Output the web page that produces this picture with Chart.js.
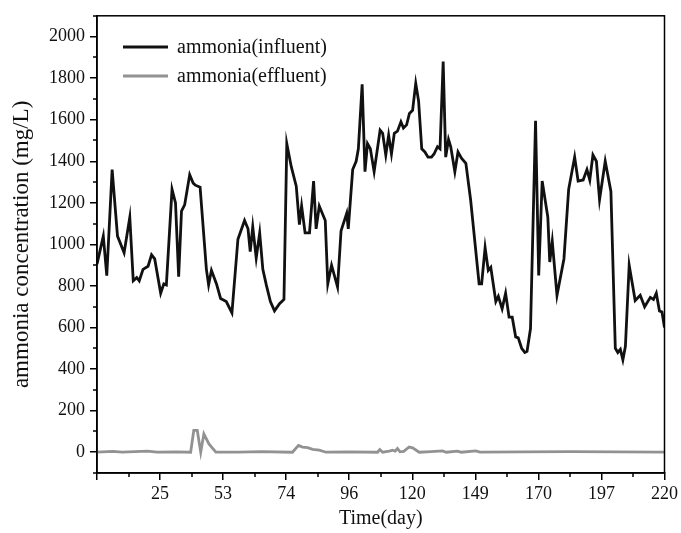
<!DOCTYPE html>
<html>
<head>
<meta charset="utf-8">
<script src="https://cdn.jsdelivr.net/npm/chart.js@4"></script>
<style>
  body { margin: 0; background: #fff; }
  #wrap { width: 681px; height: 533px; }
</style>
</head>
<body>
<div id="wrap"><canvas id="myChart" width="681" height="533"></canvas></div>
<script>
// eixo x: posicao da amostra (0..180), rotulos com o dia real
var dayTicks = ['', '25', '53', '74', '96', '120', '149', '170', '197', '220'];

var influentX = [0, 2.0, 3.1, 4.8, 6.5, 8.6, 10.4, 11.5, 12.6, 13.4, 14.6, 16.2, 17.3, 18.3, 20.2, 21.2, 22.0,
  23.8, 24.9, 25.9, 26.8, 27.8, 29.4, 30.5, 31.2, 32.7, 34.7, 35.4, 36.3, 37.9, 39.2, 41.0, 42.8,
  44.7, 46.8, 47.9, 48.6, 49.4, 50.5, 51.6, 52.6, 53.7, 55.0, 56.3, 57.9, 59.3, 60.2, 61.6, 63.2,
  64.2, 64.9, 66.0, 67.4, 68.7, 69.5, 70.5, 72.4, 73.2, 74.4, 76.3, 77.4, 79.2, 79.7, 81.1, 82.2,
  82.9, 84.1, 85.0, 85.8, 86.7, 87.9, 89.8, 90.6, 91.6, 92.5, 93.4, 94.3, 95.3, 96.4, 97.2, 98.2,
  99.1, 100.1, 101.1, 102.0, 103.0, 104.0, 105.0, 106.1, 106.9, 108.0, 108.8, 109.8, 110.6, 111.5,
  112.2, 113.5, 114.5, 115.6, 117.0, 118.5, 121.2, 122.0, 123.1, 124.1, 124.9, 126.5, 127.3, 128.5,
  129.6, 130.7, 131.7, 132.8, 133.6, 134.7, 135.7, 136.4, 137.5, 139.1, 140.1, 141.2, 143.0, 143.6,
  144.4, 145.9, 148.1, 149.6, 151.5, 152.6, 154.2, 155.4, 156.3, 157.3, 158.4, 159.4, 161.2, 163.0,
  164.4, 165.2, 166.0, 166.8, 167.6, 168.8, 170.7, 172.3, 173.7, 175.5, 176.5, 177.4, 178.4, 179.2, 180];
var influentConc = [905, 1040, 850, 1360, 1040, 960, 1130, 825, 840, 825, 880, 895, 950, 930, 765, 810, 805,
  1265, 1200, 845, 1160, 1190, 1335, 1295, 1285, 1275, 880, 805, 875, 810, 740, 725, 670,
  1025, 1115, 1075, 965, 1085, 935, 1055, 880, 805, 725, 680, 715, 735, 1485, 1375, 1280,
  1095, 1185, 1055, 1055, 1305, 1075, 1185, 1115, 810, 900, 795, 1065, 1150, 1075, 1360, 1400,
  1460, 1770, 1350, 1485, 1460, 1350, 1550, 1535, 1430, 1525, 1435, 1535, 1545, 1590, 1560, 1575,
  1630, 1645, 1775, 1690, 1460, 1445, 1420, 1420, 1435, 1470, 1460, 1880, 1420, 1505,
  1470, 1350, 1445, 1415, 1390, 1215, 810, 810, 985, 875, 890, 725, 750, 690,
  765, 650, 650, 555, 550, 500, 480, 485, 595, 1595, 850, 1305, 1130, 915,
  1015, 755, 930, 1265, 1420, 1305, 1310, 1360, 1310, 1430, 1400, 1215, 1400, 1255,
  500, 480, 495, 445, 510, 900, 730, 755, 700, 745, 735, 765, 680, 675, 600];

var effluentX = [0, 5, 8, 16, 19, 25, 29.7, 30.7, 31.8, 32.9, 33.9, 35.5, 37.7, 45, 52, 62, 63.9, 65.2,
  66.8, 68.4, 70.5, 72.6, 80, 89, 89.7, 90.6, 92.7, 93.8, 94.6, 95.3, 96.1, 97.3, 99.0, 100.1,
  102.2, 106, 109.6, 110.8, 114.3, 115.5, 120.1, 121.5, 135, 150, 165, 180];
var effluentConc = [0, 4, 0, 5, 0, 2, 0, 105, 105, 0, 88, 40, 0, 0, 3, 0, 33, 25,
  22, 14, 10, 0, 2, 0, 13, 0, 5, 10, 5, 18, 2, 4, 25, 21,
  0, 3, 6, 0, 5, 0, 6, 0, 2, 3, 2, 0];

var serif = 'Liberation Serif';

function pares(xs, ys) {
  return xs.map(function (x, i) { return { x: x, y: ys[i] }; });
}

// ticks menores, moldura e legenda dentro do grafico
var extras = {
  id: 'extras',
  afterDraw: function (chart) {
    var c = chart.ctx, a = chart.chartArea;
    var xs = chart.scales.x, ys = chart.scales.y;
    c.save();
    c.strokeStyle = '#000';
    c.lineWidth = 1.5;
    c.strokeRect(a.left, a.top, a.right - a.left, a.bottom - a.top);
    c.beginPath();
    for (var v = 10; v < 180; v += 20) {
      var px = Math.round(xs.getPixelForValue(v));
      c.moveTo(px, a.bottom); c.lineTo(px, a.bottom + 4);
    }
    for (var w = -100; w <= 2100; w += 200) {
      var py = Math.round(ys.getPixelForValue(w));
      c.moveTo(a.left, py); c.lineTo(a.left - 4, py);
    }
    c.stroke();
    // legenda
    c.font = '20px "' + serif + '"';
    c.textBaseline = 'middle';
    chart.data.datasets.forEach(function (ds, i) {
      var y = 47 + i * 29;
      c.strokeStyle = ds.borderColor;
      c.lineWidth = 2.8;
      c.beginPath(); c.moveTo(123, y); c.lineTo(168, y); c.stroke();
      c.fillStyle = '#111';
      c.fillText(ds.label, 177, y + 1);
    });
    c.restore();
  }
};

var ctx = document.getElementById('myChart');
var myChart = new Chart(ctx, {
  type: 'line',
  data: {
    datasets: [{
      label: 'ammonia(influent)',
      data: pares(influentX, influentConc),
      borderColor: '#111111',
      borderWidth: 2.8,
      pointRadius: 0,
      tension: 0
    }, {
      label: 'ammonia(effluent)',
      data: pares(effluentX, effluentConc),
      borderColor: '#929292',
      borderWidth: 2.8,
      pointRadius: 0,
      tension: 0
    }]
  },
  options: {
    responsive: false,
    animation: false,
    devicePixelRatio: 1,
    layout: { padding: { top: 10, right: 15, left: 0, bottom: 0 } },
    plugins: { legend: { display: false }, tooltip: { enabled: false } },
    scales: {
      x: {
        type: 'linear',
        min: 0,
        max: 180,
        afterBuildTicks: function (s) {
          s.ticks = dayTicks.map(function (t, i) { return { value: i * 20 }; });
        },
        afterFit: function (s) { s.height = 60; },
        ticks: {
          callback: function (v) { return dayTicks[Math.round(v / 20)]; },
          font: { family: serif, size: 18 },
          color: '#111',
          padding: 3,
          maxRotation: 0
        },
        grid: { drawOnChartArea: false, drawTicks: true, tickLength: 7, color: '#000', lineWidth: 1.5 },
        border: { display: true, color: '#000', width: 1.5 },
        title: {
          display: true,
          text: 'Time(day)',
          font: { family: serif, size: 20 },
          color: '#111',
          padding: { top: 0, bottom: 2 }
        }
      },
      y: {
        min: -100,
        max: 2100,
        afterBuildTicks: function (s) {
          var t = [];
          for (var v = 0; v <= 2000; v += 200) t.push({ value: v });
          s.ticks = t;
        },
        afterFit: function (s) { s.width = 97; },
        ticks: {
          callback: function (v) { return String(v); },
          font: { family: serif, size: 18 },
          color: '#111',
          padding: 5
        },
        grid: { drawOnChartArea: false, drawTicks: true, tickLength: 7, color: '#000', lineWidth: 1.5 },
        border: { display: true, color: '#000', width: 1.5 },
        title: {
          display: true,
          text: 'ammonia concentration (mg/L)',
          font: { family: serif, size: 23 },
          color: '#111',
          padding: { top: 8, bottom: 0 }
        }
      }
    }
  },
  plugins: [extras]
});
</script>
</body>
</html>
